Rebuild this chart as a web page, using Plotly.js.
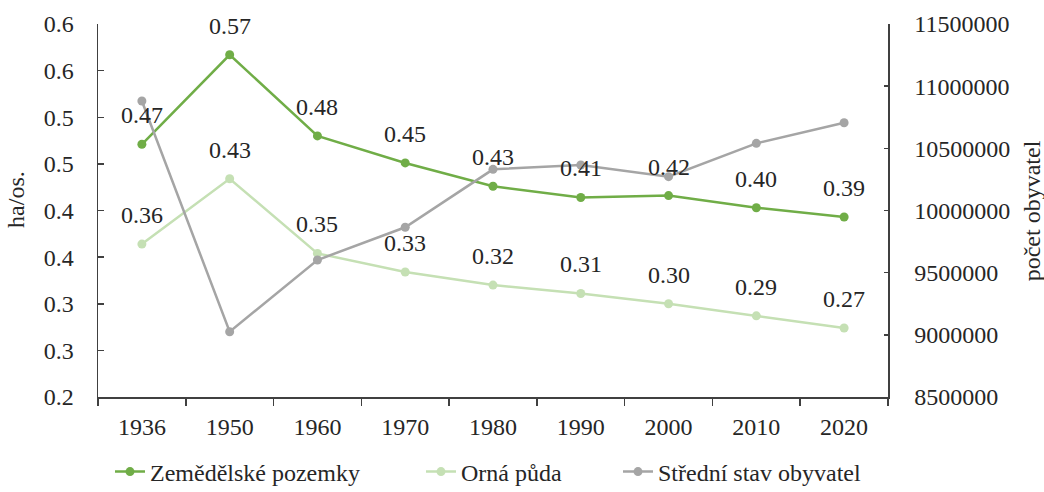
<!DOCTYPE html>
<html>
<head>
<meta charset="utf-8">
<script src="https://cdn.plot.ly/plotly-3.0.1.min.js"></script>
<style>html,body{margin:0;padding:0;background:#fff;}#chart{width:1044px;height:492px;}</style>
</head>
<body>
<div id="chart"></div>
<script>
const years = ["1936","1950","1960","1970","1980","1990","2000","2010","2020"];
const zemedelske = [0.471, 0.567, 0.480, 0.451, 0.426, 0.414, 0.416, 0.403, 0.393];
const orna = [0.364, 0.434, 0.354, 0.334, 0.320, 0.311, 0.300, 0.287, 0.274];
const obyvatel = [10881000, 9025000, 9602000, 9865000, 10331000, 10366000, 10272000, 10540000, 10706000];
const leftTickVals = [0.2, 0.25, 0.3, 0.35, 0.4, 0.45, 0.5, 0.55, 0.6];
const leftTickText = ["0.2", "0.3", "0.3", "0.4", "0.4", "0.5", "0.5", "0.6", "0.6"];

const FONT = "Liberation Serif, Times New Roman, serif";
const FS = 24;
const cGreen = "#70AD47", cLight = "#C5E0B4", cGrey = "#A5A5A5";
const txt = "#262626";

const traces = [
  {x: years, y: zemedelske, name: "Zemědělské pozemky", type: "scatter", mode: "lines+markers",
   line: {color: cGreen, width: 2.5}, marker: {color: cGreen, size: 9}, yaxis: "y", legend: "legend"},
  {x: years, y: orna, name: "Orná půda", type: "scatter", mode: "lines+markers",
   line: {color: cLight, width: 2.5}, marker: {color: cLight, size: 9}, yaxis: "y", legend: "legend2"},
  {x: years, y: obyvatel, name: "Střední stav obyvatel", type: "scatter", mode: "lines+markers",
   line: {color: cGrey, width: 2.5}, marker: {color: cGrey, size: 9}, yaxis: "y2", legend: "legend3"}
];

const annotations = [];
[zemedelske, orna].forEach(function(series){
  series.forEach(function(v, i){
    annotations.push({x: i, y: v, xref: "x", yref: "y", text: v.toFixed(2),
      showarrow: false, yanchor: "middle", xanchor: "center", yshift: 29,
      font: {family: FONT, size: FS, color: txt}});
  });
});
annotations.push({xref: "paper", yref: "paper", x: -0.103, y: 0.53, xanchor: "center", yanchor: "middle",
  text: "ha/os.", textangle: -90, showarrow: false, font: {family: FONT, size: FS, color: txt}});
annotations.push({xref: "paper", yref: "paper", x: 1.182, y: 0.5, xanchor: "center", yanchor: "middle",
  text: "počet obyvatel", textangle: -90, showarrow: false, font: {family: FONT, size: FS, color: txt}});

function leg(textStart){
  return {orientation: "h", xref: "container", yref: "container", x: (textStart - 41) / 1044, xanchor: "left",
    y: 20 / 492, yanchor: "middle", font: {family: FONT, size: FS, color: txt}, bgcolor: "rgba(0,0,0,0)"};
}

const axisColor = "#404040";
const layout = {
  width: 1044, height: 492,
  margin: {l: 98, r: 156, t: 24, b: 95, pad: 0},
  paper_bgcolor: "#fff", plot_bgcolor: "#fff",
  font: {family: FONT, size: FS, color: txt},
  showlegend: true,
  legend: leg(151),
  legend2: leg(462),
  legend3: leg(659),
  xaxis: {type: "category", showgrid: false, zeroline: false, showline: true, linecolor: axisColor, linewidth: 1.5,
    ticks: "outside", tickson: "boundaries", ticklen: 7, tickcolor: axisColor, tickwidth: 1.5,
    ticklabelstandoff: 8, range: [-0.5, 8.5], fixedrange: true, automargin: false},
  yaxis: {range: [0.2, 0.6], tickvals: leftTickVals, ticktext: leftTickText, showgrid: false, zeroline: false,
    showline: true, linecolor: axisColor, linewidth: 1.5, ticks: "inside", ticklen: 6, tickcolor: axisColor,
    tickwidth: 1.5, ticklabelstandoff: 18, automargin: false},
  yaxis2: {overlaying: "y", side: "right", range: [8500000, 11500000], dtick: 500000, tickformat: "d",
    showgrid: false, zeroline: false, showline: true, linecolor: axisColor, linewidth: 1.5, ticks: "inside",
    ticklen: 4, tickcolor: axisColor, tickwidth: 1.5, ticklabelstandoff: 20, automargin: false},
  annotations: annotations
};

Plotly.newPlot("chart", traces, layout, {displayModeBar: false, staticPlot: true});
</script>
</body>
</html>
